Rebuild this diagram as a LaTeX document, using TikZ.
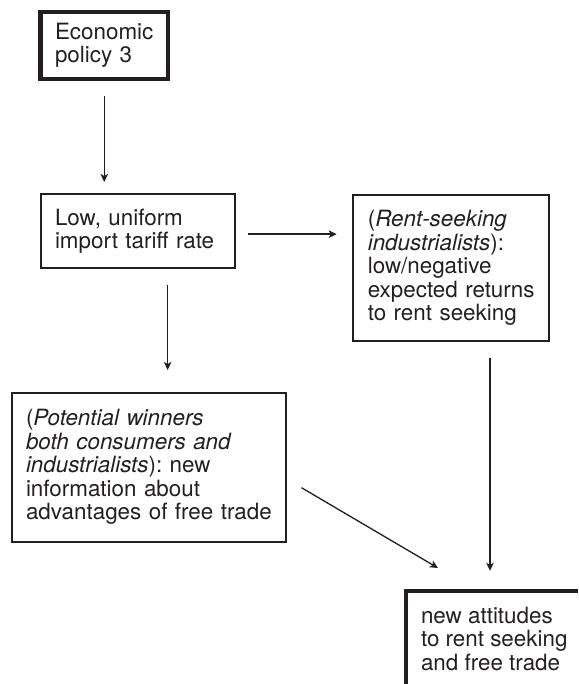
\documentclass[tikz,border=0pt]{standalone}
\usepackage{fontspec}
\setmainfont{TeX Gyre Heros}
\usetikzlibrary{arrows.meta}
\definecolor{ink}{HTML}{231F20}
\begin{document}
\begin{tikzpicture}[x=1pt,y=-1pt,
  txt/.style={font=\fontsize{22.4}{23.5}\selectfont, text=ink},
  box/.style={txt, draw=ink, line width=2pt, anchor=north west, outer sep=0pt,
              inner xsep=14.5pt, inner ysep=0pt, align=left},
  heavy/.style={line width=4.5pt},
  arr/.style={draw=ink, line width=1.3pt, -{Stealth[length=8pt,width=7.5pt,inset=2pt]}}
]
\useasboundingbox (0,0) rectangle (578,684);

\node[box, heavy, minimum width=127.5pt, minimum height=67pt, text width=98.5pt]
  (b1) at (40.5,12) {Economic\\policy~3};
\node[box, minimum width=194.3pt, minimum height=74.3pt, text width=165.3pt]
  (b2) at (40.5,194) {Low,~uniform\\import~tariff~rate};
\node[box, minimum width=196pt, minimum height=146pt, text width=167pt]
  (b3) at (353.3,195) {(\textit{Rent-seeking}\\\textit{industrialists}):\\low/negative\\expected~returns\\to~rent~seeking};
\node[box, minimum width=274.5pt, minimum height=149pt, text width=245.5pt]
  (b4) at (11.5,392.7) {(\textit{Potential~winners}\\\textit{both~consumers~and}\\\textit{industrialists}):~new\\information~about\\advantages~of~free~trade};

\coordinate (c5) at (405.8,590.8);
\node[txt, anchor=north west, inner xsep=15pt, inner ysep=16.1pt, align=left]
  (b5) at (c5) {new~attitudes\\to~rent~seeking\\and~free~trade};
\draw[draw=ink, heavy, line cap=butt, line join=miter] (c5 |- 0,684) -- (c5) -- (578,590.8);

% connectors
\draw[arr, shorten <=17pt, shorten >=12pt] (b1.south) -- (b1.south |- b2.north);
\coordinate (p2) at ([yshift=-3pt]b2.east);
\draw[arr, shorten <=13.5pt, shorten >=16.6pt] (p2) -- (p2 -| b3.west);
\coordinate (p3) at ([xshift=30pt]b2.south);
\draw[arr, shorten <=16.7pt, shorten >=22.7pt] (p3) -- (p3 |- b4.north);
\coordinate (p4) at ([xshift=38.7pt]b3.south);
\draw[arr, shorten <=16.7pt, shorten >=20pt] (p4) -- (p4 |- c5);
\coordinate (p5) at ([xshift=15.5pt,yshift=-20.5pt]b4.east);
\coordinate (q5) at ([xshift=32.2pt,yshift=22.8pt]c5);
\draw[arr] (p5) -- (q5);
\end{tikzpicture}
\end{document}
